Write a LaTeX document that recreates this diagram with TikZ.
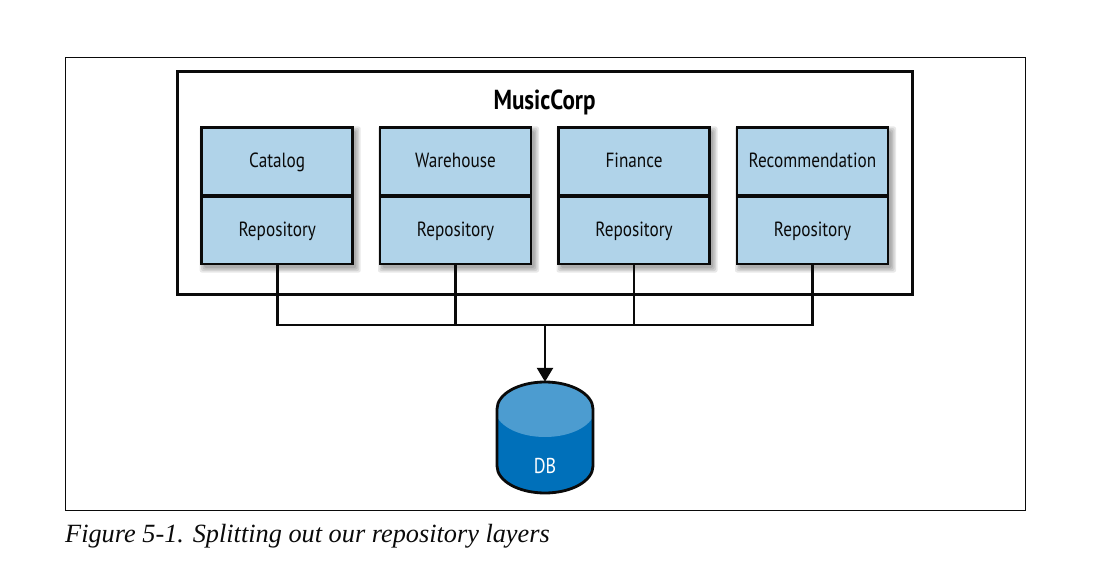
\documentclass[tikz,border=0pt]{standalone}
\usepackage{fontspec}
\setmainfont{PT Sans}[FakeStretch=0.84]
\newfontfamily\capfont{Liberation Serif}
\usetikzlibrary{arrows.meta,calc}
\definecolor{boxblue}{HTML}{B0D3E9}
\definecolor{dbdark}{HTML}{0070BA}
\definecolor{dblight}{HTML}{4C9CD0}
\definecolor{ink}{HTML}{0A0A0A}
\tikzset{
  frame/.style={draw=ink,line width=0.8pt},
  outerbox/.style={draw=ink,line width=2.6pt,fill=white},
  layerbox/.style={draw=ink,line width=2.6pt,fill=boxblue,minimum width=151pt,minimum height=67.5pt,inner sep=0pt,font=\fontsize{20.5}{23}\selectfont,text=ink,text height=14pt,text depth=4pt},
  bus/.style={draw=ink,line width=2.6pt},
  flow/.style={bus,-{Triangle[length=14pt,width=16pt]}},
  soft/.style={fill=black,opacity=0.09,rounded corners=2pt},
}
\begin{document}
\begin{tikzpicture}[x=1pt,y=-1pt]
\useasboundingbox (0,0) rectangle (1118,577);
\fill[white] (0,0) rectangle (1118,577);
\node[frame,minimum width=960pt,minimum height=453pt,inner sep=0pt] (figframe) at (545,283.5) {};
\node[outerbox,minimum width=735pt,minimum height=223pt,inner sep=0pt] (corp) at (544.7,183) {};
\node[font=\fontsize{27.5}{30}\selectfont\bfseries,text=black] (title) at (544.5,102.5) {MusicCorp};
% soft shadows
\foreach \cx in {277.2,455.5,634,812.5}{
  \foreach \g in {0,1.5,3,4.5}{
    \fill[soft] (\cx-76+3-\g,127+4-\g) rectangle (\cx+76+3+\g,265+3+\g);
  }
}
\foreach \nm/\cx/\txt in {cat/277.2/Catalog,war/455.5/Warehouse,fin/634/Finance,rec/812.5/Recommendation}{
  \node[layerbox] (\nm) at (\cx,161.3) {\raisebox{-1.5pt}{\txt}};
  \node[layerbox] (\nm r) at (\cx,230.2) {\raisebox{-1.5pt}{Repository}};
}
\coordinate (busc) at (277.2,325);
\coordinate (busw) at (455.5,325);
\coordinate (busf) at (634,325);
\coordinate (busr) at (812.5,325);
\coordinate (busm) at (545,325);
\draw[bus] (catr.south) -- (busc) -- (busr) -- (recr.south);
\draw[bus] (warr.south) -- (busw);
\draw[bus] (finr.south) -- (busf);
% database
\node[minimum width=96pt,minimum height=111pt,inner sep=0pt] (db) at (545,437.5) {};
\fill[dbdark] (497,409) -- (497,466) arc[start angle=180,end angle=360,x radius=48pt,y radius=27pt] -- (593,409) arc[start angle=0,end angle=180,x radius=48pt,y radius=27pt] -- cycle;
\begin{scope}
\clip (497,409) -- (497,466) arc[start angle=180,end angle=360,x radius=48pt,y radius=27pt] -- (593,409) arc[start angle=0,end angle=180,x radius=48pt,y radius=27pt] -- cycle;
\fill[dblight] (545,409) ellipse[x radius=50pt,y radius=28pt];
\end{scope}
\draw[ink,line width=2.8pt] (497,409) -- (497,466) arc[start angle=180,end angle=360,x radius=48pt,y radius=27pt] -- (593,409) arc[start angle=0,end angle=180,x radius=48pt,y radius=27pt] -- cycle;
\node[text=white,font=\fontsize{21.5}{24}\selectfont] (dblabel) at (545,465.5) {DB};
\draw[flow] (busm) -- (db.north);
\node[anchor=base west,inner sep=0pt,font=\capfont\itshape\fontsize{26.3}{28}\selectfont,text=ink] (caption) at (65,542.5) {Figure 5-1. Splitting out our repository layers};
\end{tikzpicture}
\end{document}
